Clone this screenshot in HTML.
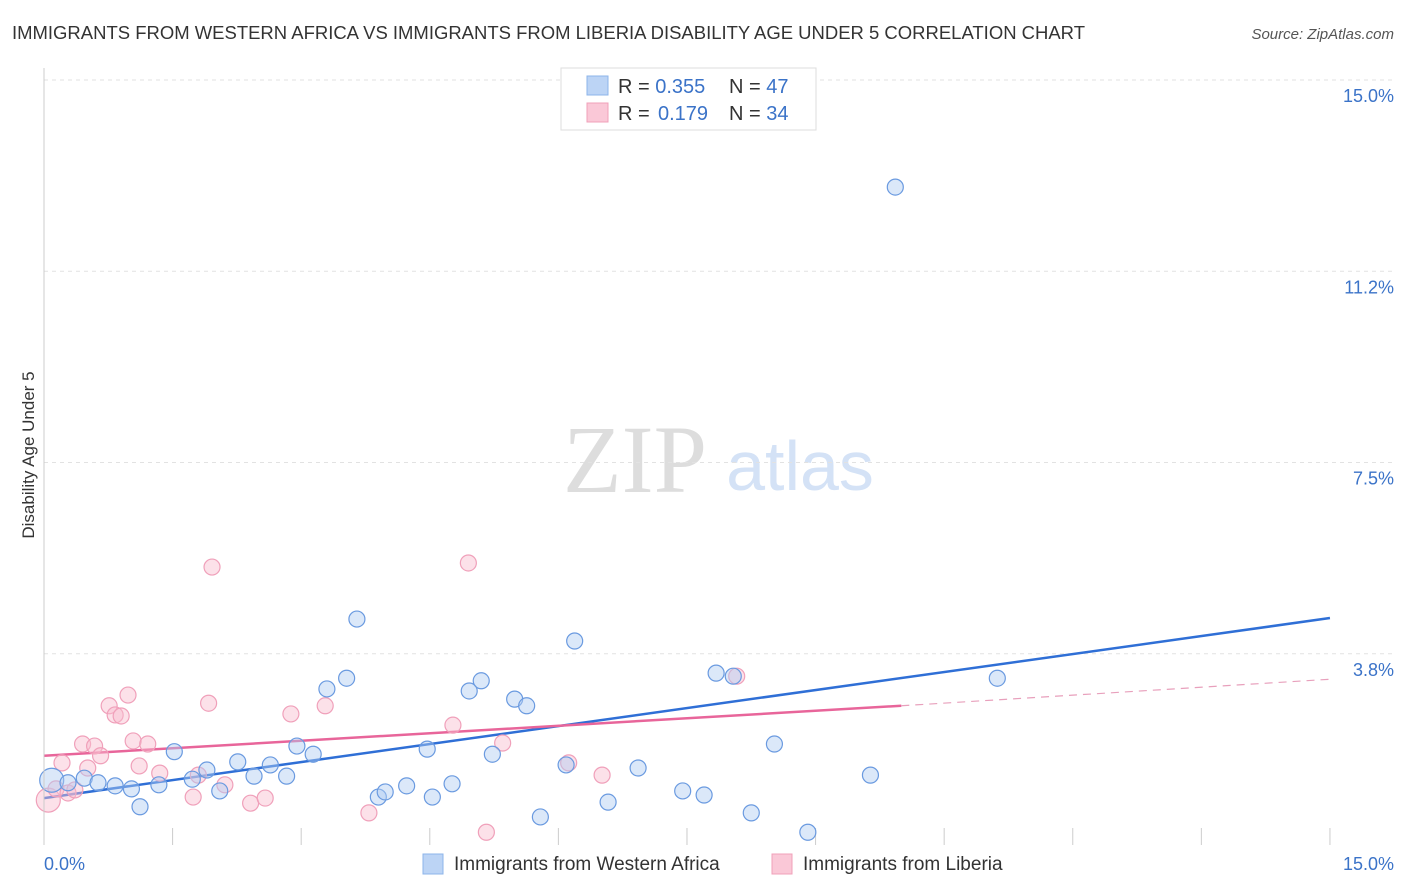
<!DOCTYPE html>
<html><head><meta charset="utf-8"><style>
body{margin:0;background:#fff;font-family:"Liberation Sans",sans-serif;}
svg{display:block}
</style></head><body>
<svg id="chart" width="1406" height="892" xmlns="http://www.w3.org/2000/svg">
<text x="12" y="39" font-size="18" fill="#333" textLength="1073" lengthAdjust="spacingAndGlyphs">IMMIGRANTS FROM WESTERN AFRICA VS IMMIGRANTS FROM LIBERIA DISABILITY AGE UNDER 5 CORRELATION CHART</text>
<text x="1394" y="39" font-size="15" fill="#555" font-style="italic" text-anchor="end">Source: ZipAtlas.com</text>
<text x="34" y="455" font-size="17" fill="#333" text-anchor="middle" transform="rotate(-90 34 455)">Disability Age Under 5</text>
<text x="635" y="492" font-size="96" fill="#ddd" font-family="Liberation Serif,serif" text-anchor="middle">ZIP</text>
<text x="800" y="490" font-size="70" fill="#d4e2f6" text-anchor="middle">atlas</text>
<g id="grid"></g><g id="ticks"></g><g id="lines"></g><g id="pts"></g>
<line x1="44" y1="68" x2="44" y2="845" stroke="#ccc"/>
<text x="44" y="870" font-size="18" fill="#3b73c8">0.0%</text>
<text x="1394" y="870" font-size="18" fill="#3b73c8" text-anchor="end">15.0%</text>
<g>
<rect x="561" y="68" width="255" height="62" fill="#fff" stroke="#ddd"/>
<rect x="587" y="76" width="21" height="19" fill="#bcd4f5" stroke="#8db4ea"/>
<rect x="587" y="103" width="21" height="19" fill="#fac8d7" stroke="#f0a0ba"/>
<text x="618" y="93" font-size="20" fill="#333">R = <tspan fill="#3b73c8">0.355</tspan><tspan x="729">N = </tspan><tspan fill="#3b73c8">47</tspan></text>
<text x="618" y="120" font-size="20" fill="#333">R = <tspan x="658" fill="#3b73c8">0.179</tspan><tspan x="729">N = </tspan><tspan fill="#3b73c8">34</tspan></text>
</g>
<g>
<rect x="423" y="854" width="20" height="20" fill="#bcd4f5" stroke="#8db4ea"/>
<text x="454" y="870" font-size="19" fill="#333">Immigrants from Western Africa</text>
<rect x="772" y="854" width="20" height="20" fill="#fac8d7" stroke="#f0a0ba"/>
<text x="803" y="870" font-size="19" fill="#333">Immigrants from Liberia</text>
</g>
</svg>
<script>
const yTicks=[15,11.25,7.5,3.75];
const yTickLabels=["15.0%","11.2%","7.5%","3.8%"];
const xTicks=[0,1.5,3,4.5,6,7.5,9,10.5,12,13.5,15];
const blueX=[0.09,0.28,0.47,0.63,0.83,1.02,1.12,1.34,1.52,1.73,1.9,2.05,2.26,2.45,2.64,2.83,2.95,3.14,3.3,3.53,3.65,3.9,3.98,4.23,4.47,4.53,4.76,4.96,5.1,5.23,5.49,5.63,5.79,6.09,6.19,6.58,6.93,7.45,7.7,7.84,8.04,8.25,8.52,8.91,9.64,9.93,11.12];
const blueY=[1.27,1.22,1.31,1.22,1.16,1.1,0.75,1.18,1.83,1.29,1.47,1.06,1.63,1.35,1.57,1.35,1.94,1.78,3.06,3.27,4.43,0.94,1.04,1.16,1.88,0.94,1.2,3.02,3.22,1.78,2.86,2.73,0.55,1.57,4.0,0.84,1.51,1.06,0.98,3.37,3.31,0.63,1.98,0.25,1.37,12.9,3.27];
const pinkX=[0.05,0.14,0.21,0.28,0.36,0.45,0.51,0.59,0.66,0.76,0.83,0.9,0.98,1.04,1.11,1.21,1.35,1.74,1.8,1.92,1.96,2.11,2.41,2.58,2.88,3.28,3.79,4.77,4.95,5.16,5.35,6.12,6.51,8.08];
const pinkY=[0.88,1.1,1.61,1.02,1.08,1.98,1.51,1.94,1.75,2.73,2.55,2.53,2.94,2.04,1.55,1.98,1.41,0.94,1.37,2.78,5.45,1.18,0.82,0.92,2.57,2.73,0.63,2.35,5.53,0.25,2.0,1.61,1.37,3.31];
const blueFit=[0.92,4.45], pinkFit=[1.75,2.73,3.25];
const X=v=>44+v*85.73, Y=v=>845-v*51;
const NS="http://www.w3.org/2000/svg";
function mk(t,a,p){const e=document.createElementNS(NS,t);for(const k in a)e.setAttribute(k,a[k]);document.getElementById(p).appendChild(e);return e;}
yTicks.forEach((v,i)=>{
 const l=mk('line',{x1:44,x2:1394,y1:Y(v),y2:Y(v),stroke:'#e2e2e2','stroke-dasharray':'4,4'},'grid');
 
 
 const t=mk('text',{x:1394,y:Y(v)+22,'font-size':18,fill:'#3b73c8','text-anchor':'end'},'grid');
 t.textContent=yTickLabels[i];
 
 
});
xTicks.slice(1).forEach(v=>{
 const l=mk('line',{x1:X(v),x2:X(v),y1:828,y2:845,stroke:'#ccc'},'ticks');
 
 
});
pinkX.forEach((x,i)=>{
 const c=mk('circle',{cx:X(x),cy:Y(pinkY[i]),r:i==0?12:8,fill:'rgba(248,188,206,0.45)',stroke:'#f0a0ba','stroke-width':1.2},'pts');
 
 
});
blueX.forEach((x,i)=>{
 const c=mk('circle',{cx:X(x),cy:Y(blueY[i]),r:i==0?12:8,fill:'rgba(176,204,242,0.45)',stroke:'#6a9ae0','stroke-width':1.2},'pts');
 
 
});
let l=mk('line',{x1:X(0),y1:Y(blueFit[0]),x2:X(15),y2:Y(blueFit[1]),stroke:'#2f6fd6','stroke-width':2.5},'lines');


l=mk('line',{x1:X(0),y1:Y(pinkFit[0]),x2:X(10),y2:Y(pinkFit[1]),stroke:'#e8659a','stroke-width':2.5},'lines');


l=mk('line',{x1:X(10),y1:Y(pinkFit[1]),x2:X(15),y2:Y(pinkFit[2]),stroke:'#e8a0bc','stroke-width':1.2,'stroke-dasharray':'8,6'},'lines');


</script>
</body></html>
